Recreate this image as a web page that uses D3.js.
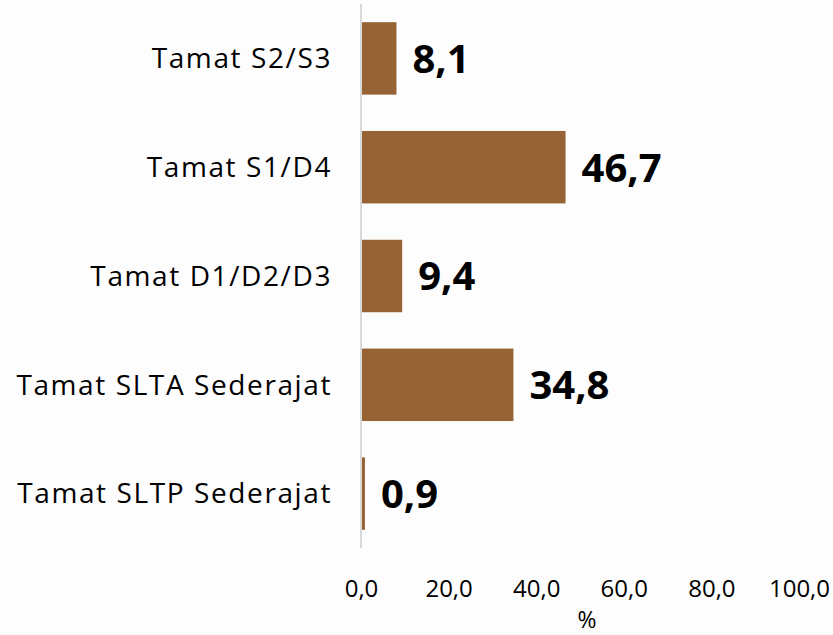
<!DOCTYPE html>
<html>
<head>
<meta charset="utf-8">
<script src="https://cdn.jsdelivr.net/npm/d3@7"></script>
<style>
    html, body { margin: 0; padding: 0; background: #fdfdfd; }
    svg { display: block; font-family: "Open Sans", sans-serif; }
</style>
</head>
<body>
<svg width="833" height="635"></svg>
<script>
"use strict";

// data
var categories = [
    "Tamat S2/S3",
    "Tamat S1/D4",
    "Tamat D1/D2/D3",
    "Tamat SLTA Sederajat",
    "Tamat SLTP Sederajat"
];
var values = [8.1, 46.7, 9.4, 34.8, 0.9];
var tickValues = [0, 20, 40, 60, 80, 100];
var axisTitle = "%";

var fmt = function (v) {
    return d3.format(".1f")(v).replace(".", ",");
};

var svg = d3.select("svg");
var barColor = "#976334";

var x = d3.scaleLinear()
    .domain([0, 100])
    .range([361, 799]);

var y = d3.scaleBand()
    .domain(categories)
    .range([4, 548])
    .paddingInner(0.334)
    .paddingOuter(0.167);

// bars
svg.append("g").selectAll("rect")
    .data(values)
    .join("rect")
    .attr("x", x(0))
    .attr("y", function (ignore, i) {
        return y(categories[i]);
    })
    .attr("width", function (d) {
        return x(d) - x(0);
    })
    .attr("height", y.bandwidth())
    .attr("fill", barColor);

// vertical axis line
svg.append("line")
    .attr("x1", x(0))
    .attr("x2", x(0))
    .attr("y1", 4)
    .attr("y2", 548)
    .attr("stroke", "#d9d9d9")
    .attr("stroke-width", 2);

// category labels
svg.append("g").selectAll("text")
    .data(categories)
    .join("text")
    .attr("x", 332)
    .attr("y", function (d) {
        return y(d) + y.bandwidth() / 2;
    })
    .attr("dy", "0.35em")
    .attr("text-anchor", "end")
    .attr("font-size", 28)
    .attr("letter-spacing", 1.6)
    .attr("fill", "#000")
    .text(function (d) {
        return d;
    });

// value labels
svg.append("g").selectAll("text")
    .data(values)
    .join("text")
    .attr("x", function (d) {
        return x(d) + 16;
    })
    .attr("y", function (ignore, i) {
        return y(categories[i]) + y.bandwidth() / 2;
    })
    .attr("dy", "0.36em")
    .attr("font-size", 40)
    .attr("font-weight", "bold")
    .attr("fill", "#000")
    .text(fmt);

// x tick labels
var xAxis = d3.axisBottom(x)
    .tickValues(tickValues)
    .tickFormat(fmt)
    .tickSize(0)
    .tickPadding(0);

var xAxisGroup = svg.append("g")
    .attr("transform", "translate(0,580)")
    .call(xAxis);
xAxisGroup.select(".domain").remove();
xAxisGroup.selectAll("text")
    .attr("font-family", "\"Open Sans\", sans-serif")
    .attr("font-size", 24)
    .attr("fill", "#000");

svg.append("text")
    .attr("x", 587)
    .attr("y", 628)
    .attr("text-anchor", "middle")
    .attr("font-size", 23)
    .attr("fill", "#000")
    .text(axisTitle);
</script>
</body>
</html>
